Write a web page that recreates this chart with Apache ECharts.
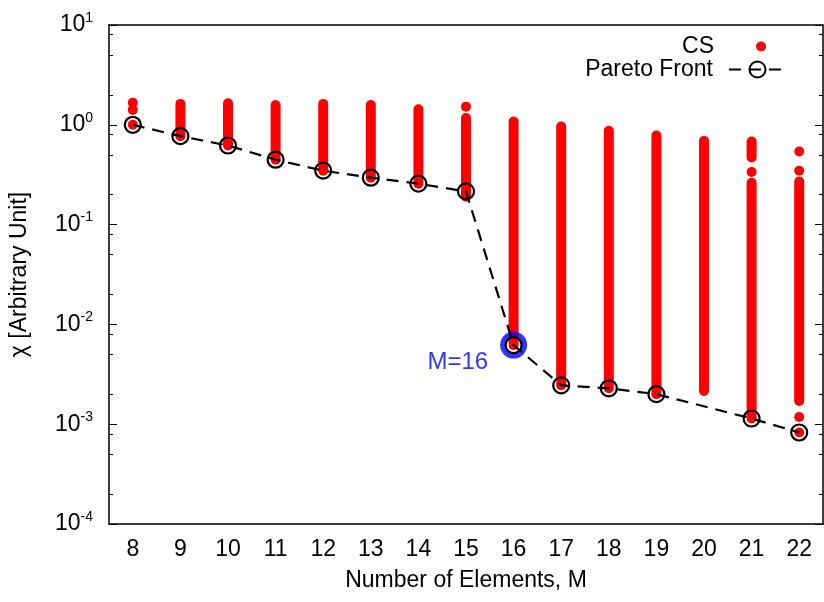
<!DOCTYPE html>
<html>
<head>
<meta charset="utf-8">
<script src="https://cdn.jsdelivr.net/npm/echarts@6/dist/echarts.min.js"></script>
<style>html,body{margin:0;padding:0;background:#fff;}#c{width:824px;height:602px;}</style>
</head>
<body>
<div id="c"></div>
<script>
// ---- data ----
const categories = ['8','9','10','11','12','13','14','15','16','17','18','19','20','21','22'];
const paretoM   = [8, 9, 10, 11, 12, 13, 14, 15, 16, 17, 18, 19, 21, 22];
const paretoChi = [1.0, 0.77, 0.62, 0.447, 0.347, 0.295, 0.257, 0.215, 0.0062, 0.00245, 0.00229, 0.002, 0.00114, 0.000826];
// CS samples: each entry is a run of points from csLow to csHigh at M = csM
const csM    = [8, 8, 8, 9, 10, 11, 12, 13, 14, 15, 15, 16, 17, 18, 19, 20, 21, 21, 21, 22, 22, 22, 22, 22];
const csLow  = [1.0, 1.41, 1.66, 0.77, 0.62, 0.447, 0.347, 0.295, 0.257, 0.19, 1.52, 0.0062, 0.00245, 0.00229, 0.002, 0.00215, 0.00114, 0.336, 0.47, 0.000826, 0.00118, 0.00171, 0.347, 0.54];
const csHigh = [1.0, 1.41, 1.66, 1.62, 1.64, 1.58, 1.62, 1.58, 1.43, 1.17, 1.52, 1.08, 0.96, 0.87, 0.78, 0.69, 0.263, 0.336, 0.68, 0.000826, 0.00118, 0.27, 0.347, 0.54];
const highlightM = [16];
const highlightChi = [0.0062];
const highlightLabel = 'M=16';
const yMajorTicks = [1e-4, 1e-3, 1e-2, 1e-1, 1, 10];
const yMinorTicks = [];
[1e-4, 1e-3, 1e-2, 1e-1, 1].forEach(d => [2, 5, 8].forEach(k => yMinorTicks.push(+(d * k).toPrecision(3))));

const FONT = 'Liberation Sans';
const csData = csM.map((m, i) => [String(m), csLow[i], csHigh[i]]);
const paretoData = paretoM.map((m, i) => [String(m), paretoChi[i]]);
const hlData = highlightM.map((m, i) => [String(m), highlightChi[i]]);

const chart = echarts.init(document.getElementById('c'), null, {renderer: 'canvas'});

function yAxisCfg(pos, minor, labels) {
  return {
    type: 'log', logBase: 10, min: 1e-4, max: 10, interval: 1,
    position: pos, gridIndex: 0,
    name: labels ? 'χ [Arbitrary Unit]' : '',
    nameLocation: 'middle', nameGap: 78,
    nameTextStyle: {fontFamily: FONT, fontSize: 23, color: '#000'},
    axisLine: {show: !minor, lineStyle: {color: '#000', width: 1.5}},
    axisTick: {show: true, inside: true, length: minor ? 4 : 8,
      customValues: minor ? yMinorTicks : yMajorTicks,
      lineStyle: {color: '#000', width: 1}},
    axisLabel: {show: labels, margin: 16, customValues: yMajorTicks,
      formatter: v => '{b|10}{s|' + Math.round(Math.log10(v)) + '}',
      rich: {
        b: {fontFamily: FONT, fontSize: 23, color: '#000'},
        s: {fontFamily: FONT, fontSize: 14, color: '#000', padding: [0, 0, 14, 0]}
      }},
    splitLine: {show: false}
  };
}

const option = {
  backgroundColor: '#fff',
  animation: false,
  grid: {left: 106, right: 1, top: 25, bottom: 78, containLabel: false},
  xAxis: [
    {type: 'category', data: categories, position: 'bottom', boundaryGap: true,
     name: 'Number of Elements, M', nameLocation: 'middle', nameGap: 45,
     nameTextStyle: {fontFamily: FONT, fontSize: 23, color: '#000'},
     axisLine: {lineStyle: {color: '#000', width: 1.5}},
     axisTick: {inside: true, alignWithLabel: true, length: 8, lineStyle: {color: '#000', width: 1}},
     axisLabel: {fontFamily: FONT, fontSize: 23, color: '#000', margin: 14},
     splitLine: {show: false}},
    {type: 'category', data: categories, position: 'top', boundaryGap: true,
     axisLine: {lineStyle: {color: '#000', width: 1.5}},
     axisTick: {inside: true, alignWithLabel: true, length: 8, lineStyle: {color: '#000', width: 1}},
     axisLabel: {show: false}, splitLine: {show: false}}
  ],
  yAxis: [
    yAxisCfg('left', false, true),
    yAxisCfg('left', true, false),
    yAxisCfg('right', false, false),
    yAxisCfg('right', true, false)
  ],
  legend: [
    {data: [{name: 'CS', icon: 'circle'}], orient: 'vertical', align: 'right',
     right: 53, top: 30, itemWidth: 10, itemHeight: 10,
     textStyle: {fontFamily: FONT, fontSize: 23, color: '#000', padding: [0, 37, 0, 0]},
     selectedMode: false},
    {data: ['Pareto Front'], orient: 'vertical', align: 'right',
     right: 32, top: 53, itemWidth: 57, itemHeight: 20,
     textStyle: {fontFamily: FONT, fontSize: 23, color: '#000', padding: [0, 11, 0, 0]},
     selectedMode: false}
  ],
  series: [
    {name: 'CS', type: 'custom', xAxisIndex: 0, yAxisIndex: 0, data: csData,
     encode: {x: 0, y: [1, 2]}, itemStyle: {color: '#ff0000'}, z: 2,
     renderItem: function (params, api) {
       const x = api.value(0);
       const pHi = api.coord([x, api.value(2)]);
       const pLo = api.coord([x, api.value(1)]);
       const r = 5;
       return {type: 'rect',
         shape: {x: pHi[0] - r, y: pHi[1] - r, width: 2 * r, height: pLo[1] - pHi[1] + 2 * r, r: r},
         style: {fill: '#ff0000'}};
     }},
    {name: 'highlight', type: 'scatter', xAxisIndex: 0, yAxisIndex: 0, data: hlData,
     symbol: 'circle', symbolSize: 22, z: 3,
     itemStyle: {color: 'rgba(0,0,0,0)', borderColor: '#0000ff', borderWidth: 5},
     label: {show: true, position: 'left', distance: 12, offset: [0, 17],
       formatter: highlightLabel, fontFamily: FONT, fontSize: 24, color: '#0000ff'}},
    {name: 'Pareto Front', type: 'line', xAxisIndex: 0, yAxisIndex: 0, data: paretoData,
     symbol: 'circle', symbolSize: 16, showSymbol: true, z: 4,
     lineStyle: {color: '#000', width: 2.2, type: [12, 8]},
     itemStyle: {color: 'rgba(0,0,0,0)', borderColor: '#000', borderWidth: 2.2}}
  ]
};
chart.setOption(option);
</script>
</body>
</html>
